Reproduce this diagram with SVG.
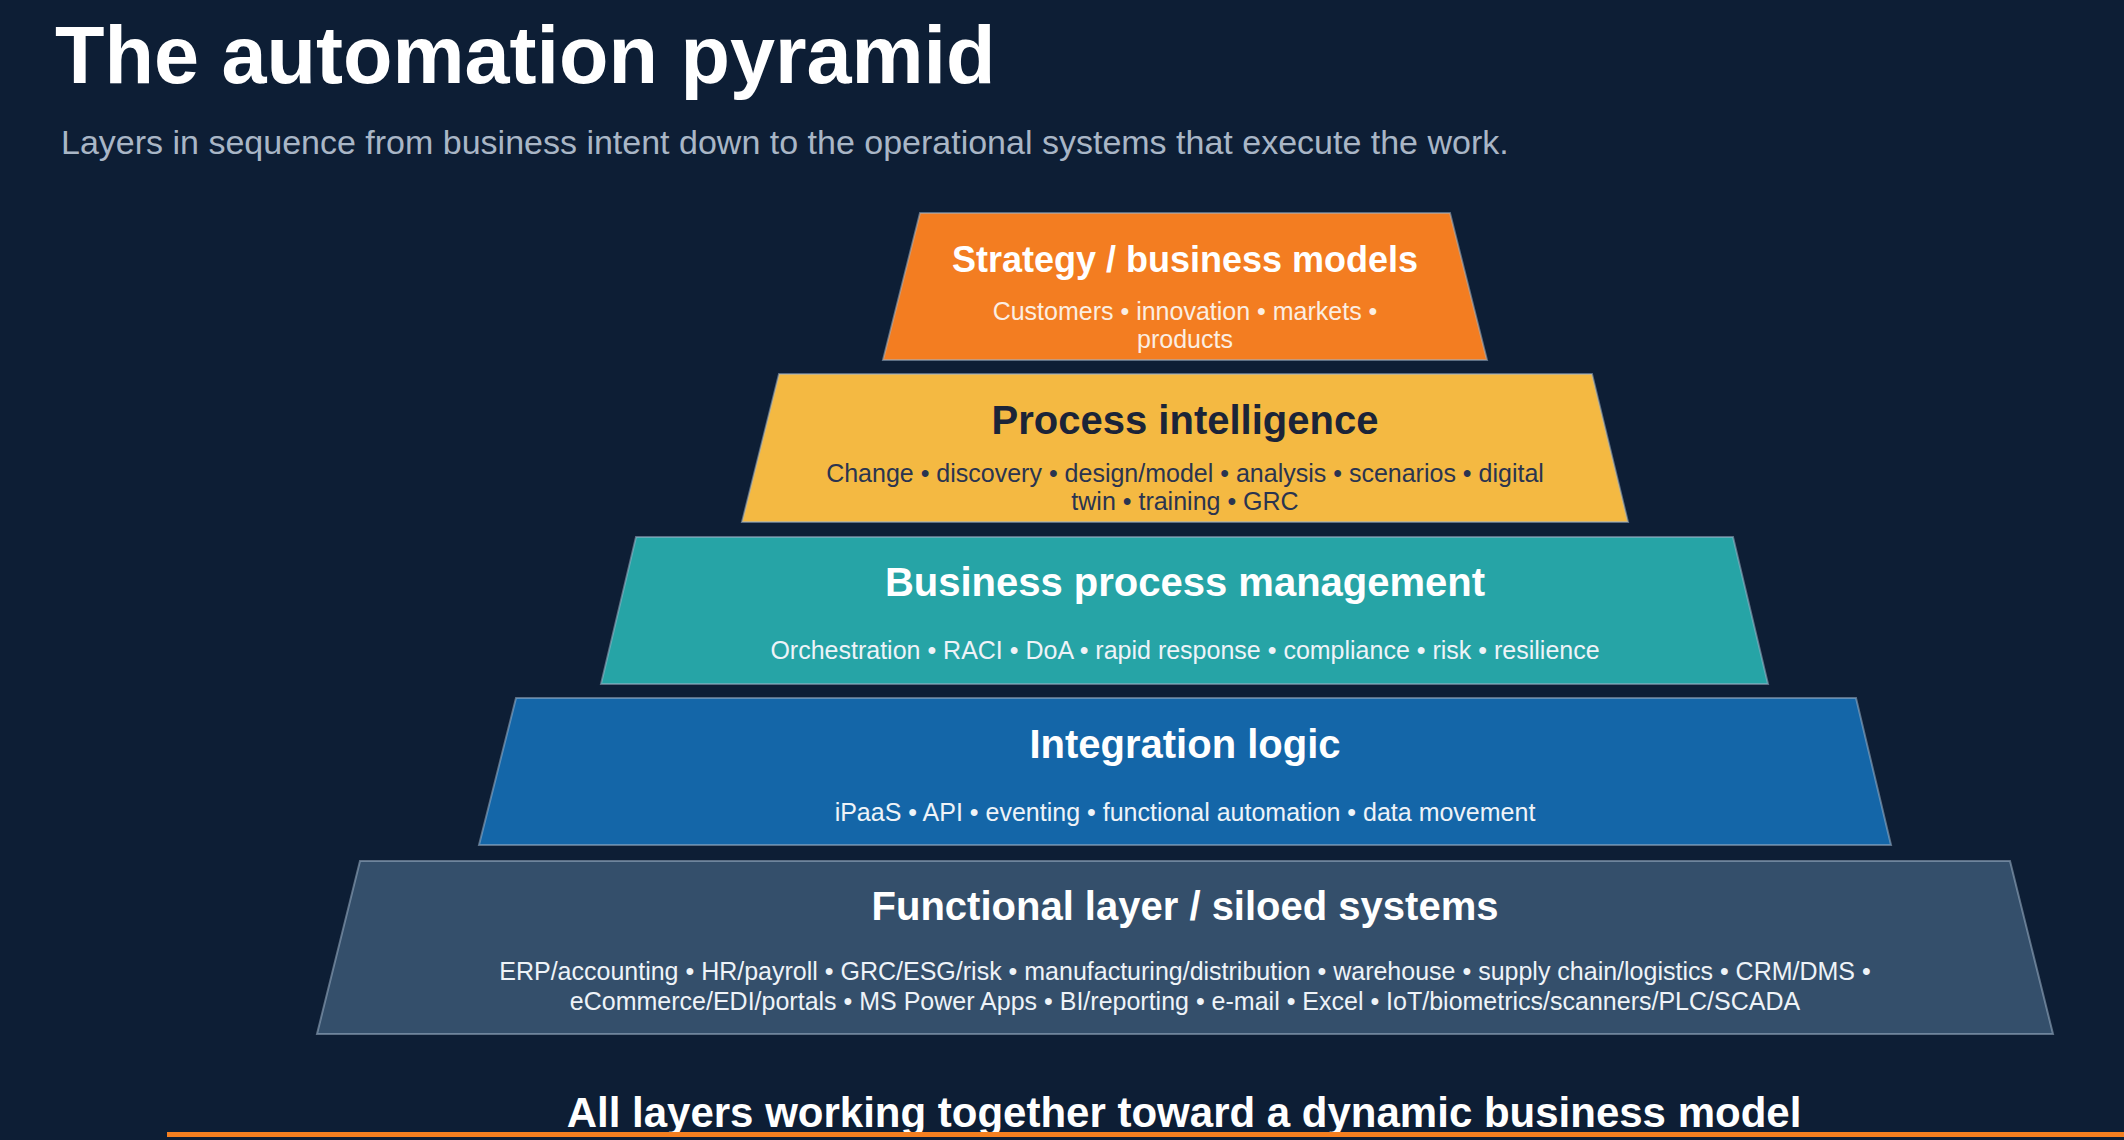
<svg xmlns="http://www.w3.org/2000/svg" width="2124" height="1140" viewBox="0 0 2124 1140">
  <style>
    .layer { stroke: #9fb2c6; stroke-opacity: 0.55; stroke-width: 2; stroke-linejoin: miter; }
    .ttl { font-family: "Liberation Sans", Arial, sans-serif; font-weight: bold; text-anchor: middle; font-size: 40px; fill: #ffffff; }
    .sub { font-family: "Liberation Sans", Arial, sans-serif; text-anchor: middle; font-size: 25px; fill: #eef3f8; }
    .dark { fill: #1b2438; }
    .darksub { fill: #2a3450; }
  </style>
  <rect x="0" y="0" width="2124" height="1140" fill="#0d1e35"/>

  <g id="header">
    <text x="55" y="83" font-family="Liberation Sans, Arial, sans-serif" font-weight="bold" font-size="81" fill="#ffffff">The automation pyramid</text>
    <text x="61" y="154" font-family="Liberation Sans, Arial, sans-serif" font-size="34" fill="#a9b6c6">Layers in sequence from business intent down to the operational systems that execute the work.</text>
  </g>

  <g id="connectors"></g>

  <g id="layer-strategy">
    <polygon class="layer" points="920,213 1450,213 1487,360 883,360" fill="#f37d21"/>
    <text class="ttl" x="1185" y="272" style="font-size:36px">Strategy / business models</text>
    <text class="sub" x="1185" y="320" style="fill:#fbeee2">Customers • innovation • markets •</text>
    <text class="sub" x="1185" y="348" style="fill:#fbeee2">products</text>
  </g>

  <g id="layer-process-intelligence">
    <polygon class="layer" points="779,374 1592,374 1628,522 742,522" fill="#f4b942"/>
    <text class="ttl dark" x="1185" y="434">Process intelligence</text>
    <text class="sub darksub" x="1185" y="482">Change • discovery • design/model • analysis • scenarios • digital</text>
    <text class="sub darksub" x="1185" y="510">twin • training • GRC</text>
  </g>

  <g id="layer-bpm">
    <polygon class="layer" points="636,537 1733,537 1768,684 601,684" fill="#26a4a6"/>
    <text class="ttl" x="1185" y="596">Business process management</text>
    <text class="sub" x="1185" y="659">Orchestration • RACI • DoA • rapid response • compliance • risk • resilience</text>
  </g>

  <g id="layer-integration">
    <polygon class="layer" points="516,698 1856,698 1891,845 479,845" fill="#1466a8"/>
    <text class="ttl" x="1185" y="758">Integration logic</text>
    <text class="sub" x="1185" y="821">iPaaS • API • eventing • functional automation • data movement</text>
  </g>

  <g id="layer-functional">
    <polygon class="layer" points="360,861 2010,861 2053,1034 317,1034" fill="#344f6b"/>
    <text class="ttl" x="1185" y="920">Functional layer / siloed systems</text>
    <text class="sub" x="1185" y="980">ERP/accounting • HR/payroll • GRC/ESG/risk • manufacturing/distribution • warehouse • supply chain/logistics • CRM/DMS •</text>
    <text class="sub" x="1185" y="1010">eCommerce/EDI/portals • MS Power Apps • BI/reporting • e-mail • Excel • IoT/biometrics/scanners/PLC/SCADA</text>
  </g>

  <g id="footer">
    <text class="ttl" x="1184" y="1127" style="font-size:42px">All layers working together toward a dynamic business model</text>
    <rect x="167" y="1132" width="1957" height="5" fill="#f47f20"/>
  </g>
</svg>
